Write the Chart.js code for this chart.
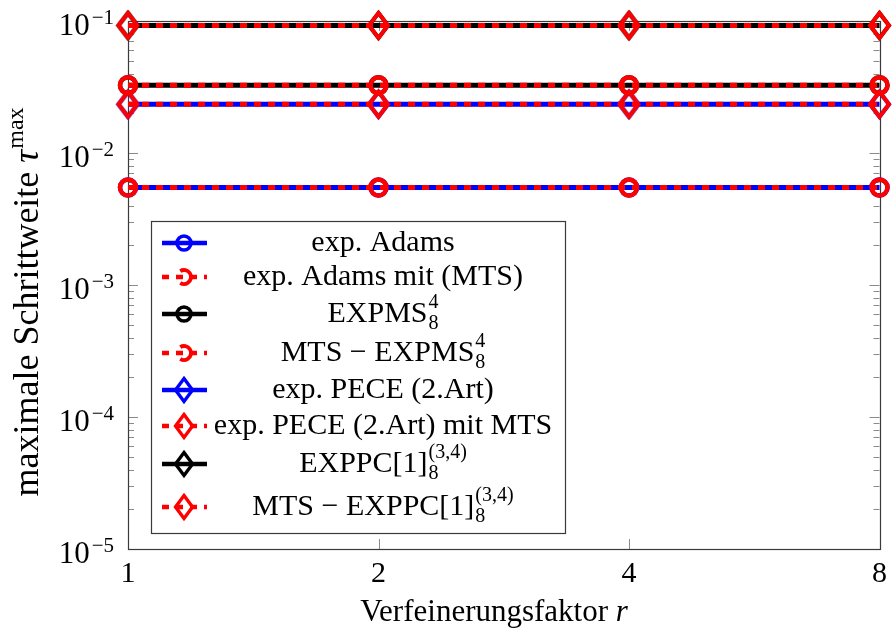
<!DOCTYPE html>
<html lang="de">
<head>
<meta charset="UTF-8">
<title>Maximale Schrittweite über dem Verfeinerungsfaktor</title>
<script src="https://cdn.jsdelivr.net/npm/chart.js"></script>
<style>
  html, body { margin: 0; padding: 0; background: #fff; }
  canvas { display: block; }
</style>
</head>
<body>
<canvas id="myChart" width="892" height="632"></canvas>
<script>
// Verfeinerungsfaktoren r (äquidistant, log2)
const faktoren = ['1', '2', '4', '8'];

// maximale Schrittweiten je Verfahren
const expAdams    = [0.00547, 0.00547, 0.00547, 0.00547];
const expAdamsMts = [0.00547, 0.00547, 0.00547, 0.00547];
const expms       = [0.0326, 0.0326, 0.0326, 0.0326];
const mtsExpms    = [0.0326, 0.0326, 0.0326, 0.0326];
const pece        = [0.0234, 0.0234, 0.0234, 0.0234];
const peceMts     = [0.0234, 0.0234, 0.0234, 0.0234];
const exppc       = [0.0925, 0.0925, 0.0925, 0.0925];
const mtsExppc    = [0.0925, 0.0925, 0.0925, 0.0925];

// Achsenbeschriftung y: Zehnerpotenzen
const yTickWerte = [1e-5, 1e-4, 1e-3, 1e-2, 1e-1];
const yTickExp   = ['−5', '−4', '−3', '−2', '−1'];

// Legendentexte (Teile mit Index oben/unten)
const legendeTexte = [
  [{ t: 'exp. Adams' }],
  [{ t: 'exp. Adams mit (MTS)' }],
  [{ t: 'EXPMS', sub: '8', sup: '4' }],
  [{ t: 'MTS − EXPMS', sub: '8', sup: '4' }],
  [{ t: 'exp. PECE (2.Art)' }],
  [{ t: 'exp. PECE (2.Art) mit MTS' }],
  [{ t: 'EXPPC[1]', sub: '8', sup: '(3,4)' }],
  [{ t: 'MTS − EXPPC[1]', sub: '8', sup: '(3,4)' }]
];

const SERIF = '"Liberation Serif", "DejaVu Serif", serif';
const BLAU = '#0000ff', ROT = '#ff0000', SCHWARZ = '#000000';

// Raute als Punktsymbol (pgfplots "diamond")
function raute(farbe, hw, hh, lw) {
  const c = document.createElement('canvas');
  c.width = Math.ceil(2 * hw + lw * 2 + 2);
  c.height = Math.ceil(2 * hh + lw * 2 + 2);
  const g = c.getContext('2d');
  zeichneRaute(g, c.width / 2, c.height / 2, hw, hh, farbe, lw);
  return c;
}

function zeichneRaute(g, cx, cy, hw, hh, farbe, lw) {
  g.save();
  g.strokeStyle = farbe;
  g.lineWidth = lw;
  g.beginPath();
  g.moveTo(cx, cy - hh);
  g.lineTo(cx + hw, cy);
  g.lineTo(cx, cy + hh);
  g.lineTo(cx - hw, cy);
  g.closePath();
  g.stroke();
  g.restore();
}

function zeichneKreis(g, cx, cy, r, farbe, lw, von, bis) {
  g.save();
  g.strokeStyle = farbe;
  g.lineWidth = lw;
  g.beginPath();
  g.arc(cx, cy, r, von, bis);
  g.stroke();
  g.restore();
}

const rauten = {};
[BLAU, ROT, SCHWARZ].forEach(f => { rauten[f] = raute(f, 9.5, 12.5, 4); });

const serien = [
  { label: 'exp. Adams',                data: expAdams,    farbe: BLAU,    gestrichelt: false, marke: 'o' },
  { label: 'exp. Adams mit (MTS)',      data: expAdamsMts, farbe: ROT,     gestrichelt: true,  marke: 'o' },
  { label: 'EXPMS',                     data: expms,       farbe: SCHWARZ, gestrichelt: false, marke: 'o' },
  { label: 'MTS - EXPMS',               data: mtsExpms,    farbe: ROT,     gestrichelt: true,  marke: 'o' },
  { label: 'exp. PECE (2.Art)',         data: pece,        farbe: BLAU,    gestrichelt: false, marke: 'd' },
  { label: 'exp. PECE (2.Art) mit MTS', data: peceMts,     farbe: ROT,     gestrichelt: true,  marke: 'd' },
  { label: 'EXPPC[1]',                  data: exppc,       farbe: SCHWARZ, gestrichelt: false, marke: 'd' },
  { label: 'MTS - EXPPC[1]',            data: mtsExppc,    farbe: ROT,     gestrichelt: true,  marke: 'd' }
];

const datasets = serien.map(s => ({
  label: s.label,
  data: s.data,
  borderColor: s.farbe,
  borderWidth: 5,
  borderDash: s.gestrichelt ? [7, 7] : [],
  pointStyle: s.marke === 'o' ? 'circle' : rauten[s.farbe],
  pointRadius: 8,
  pointBorderWidth: 4.5,
  pointBorderColor: s.farbe,
  pointBackgroundColor: 'rgba(0,0,0,0)',
  fill: false,
  tension: 0,
  clip: false,
  order: s.gestrichelt ? 0 : 1
}));

// Text mit optionalem Index oben/unten
function teilBreite(ctx, teil, gross, klein) {
  ctx.font = (teil.italic ? 'italic ' : '') + gross + 'px ' + SERIF;
  let w = ctx.measureText(teil.t).width;
  ctx.font = klein + 'px ' + SERIF;
  const wi = Math.max(teil.sub ? ctx.measureText(teil.sub).width : 0,
                      teil.sup ? ctx.measureText(teil.sup).width : 0);
  return w + (wi ? wi + 1 : 0);
}

function zeichneText(ctx, teile, x, y, align, gross, klein) {
  const breite = teile.reduce((a, t) => a + teilBreite(ctx, t, gross, klein), 0);
  let cx = align === 'center' ? x - breite / 2 : align === 'right' ? x - breite : x;
  const hoch = Math.round(gross * 0.42);
  ctx.textBaseline = 'alphabetic';
  ctx.textAlign = 'left';
  ctx.fillStyle = '#000';
  teile.forEach(teil => {
    ctx.font = (teil.italic ? 'italic ' : '') + gross + 'px ' + SERIF;
    ctx.fillText(teil.t, cx, y);
    cx += ctx.measureText(teil.t).width;
    ctx.font = klein + 'px ' + SERIF;
    let wi = 0;
    if (teil.sup) {
      ctx.fillText(teil.sup, cx + 1, y - (teil.sub ? hoch + 1 : hoch));
      wi = ctx.measureText(teil.sup).width;
    }
    if (teil.sub) {
      ctx.fillText(teil.sub, cx + 1, y + 7);
      wi = Math.max(wi, ctx.measureText(teil.sub).width);
    }
    if (wi) cx += wi + 1;
  });
}

const pgfAchsen = {
  id: 'pgfAchsen',
  beforeDatasetsDraw(chart) {
    const ctx = chart.ctx;
    const { left, right, top, bottom } = chart.chartArea;
    const ys = chart.scales.y, xs = chart.scales.x;
    ctx.save();
    // Teilstriche nach innen
    ctx.strokeStyle = '#8a8a8a';
    ctx.lineWidth = 1;
    ctx.beginPath();
    for (let k = -5; k <= -1; k++) {
      for (let m = 1; m <= 9; m++) {
        const v = m * Math.pow(10, k);
        if (v > 0.1 + 1e-12) break;
        const py = Math.round(ys.getPixelForValue(v)) + 0.5;
        const len = m === 1 ? 10 : 6;
        ctx.moveTo(left, py); ctx.lineTo(left + len, py);
        ctx.moveTo(right, py); ctx.lineTo(right - len, py);
      }
    }
    for (let i = 1; i < faktoren.length - 1; i++) {
      const px = Math.round(xs.getPixelForValue(i)) + 0.5;
      ctx.moveTo(px, bottom); ctx.lineTo(px, bottom - 10);
      ctx.moveTo(px, top); ctx.lineTo(px, top + 10);
    }
    ctx.stroke();
    // Rahmen
    ctx.strokeStyle = '#3a3a3a';
    ctx.lineWidth = 1.2;
    ctx.strokeRect(Math.round(left) + 0.5, Math.round(top) + 0.5,
                   Math.round(right - left), Math.round(bottom - top));
    ctx.restore();
  },
  afterDraw(chart) {
    const ctx = chart.ctx;
    const ys = chart.scales.y;
    ctx.save();

    // y-Beschriftung 10^k
    yTickWerte.forEach((v, i) => {
      const py = ys.getPixelForValue(v);
      ctx.font = '21px ' + SERIF;
      const wExp = ctx.measureText(yTickExp[i]).width;
      ctx.fillStyle = '#000';
      ctx.textAlign = 'right';
      ctx.textBaseline = 'alphabetic';
      ctx.fillText(yTickExp[i], 114, py + 3);
      ctx.font = '31px ' + SERIF;
      ctx.fillText('10', 113 - wExp - 1, py + 14);
    });

    // Achsentitel
    zeichneText(ctx, [{ t: 'Verfeinerungsfaktor ' }, { t: 'r', italic: true }],
                494, 621, 'center', 31, 21);
    ctx.save();
    ctx.translate(38, 302);
    ctx.rotate(-Math.PI / 2);
    zeichneText(ctx, [{ t: 'maximale Schrittweite ' }, { t: 'τ', italic: true, sup: 'max' }],
                0, 0, 'center', 36, 24);
    ctx.restore();

    // Legende
    const box = { x: 151, y: 221, w: 414, h: 312 };
    ctx.fillStyle = '#fff';
    ctx.fillRect(box.x, box.y, box.w, box.h);
    ctx.strokeStyle = '#3a3a3a';
    ctx.lineWidth = 1.2;
    ctx.strokeRect(box.x + 0.5, box.y + 0.5, box.w, box.h);
    const zeilen = [243, 277, 314, 353, 390, 426, 464, 507];
    serien.forEach((s, i) => {
      const ly = zeilen[i];
      ctx.save();
      ctx.strokeStyle = s.farbe;
      ctx.lineWidth = 4.5;
      ctx.setLineDash(s.gestrichelt ? [7, 7] : []);
      ctx.beginPath();
      ctx.moveTo(162, ly); ctx.lineTo(207, ly);
      ctx.stroke();
      ctx.restore();
      if (s.marke === 'o') {
        if (s.gestrichelt) zeichneKreis(ctx, 184, ly, 7, s.farbe, 3.8, -0.68 * Math.PI, 0.68 * Math.PI);
        else zeichneKreis(ctx, 184, ly, 7, s.farbe, 3.5, 0, Math.PI * 2);
      } else {
        zeichneRaute(ctx, 184, ly, 8.5, 11.5, s.farbe, 3.4);
      }
      zeichneText(ctx, legendeTexte[i], 383, ly + 8, 'center', 30, 20);
    });
    ctx.restore();
  }
};

new Chart(document.getElementById('myChart'), {
  type: 'line',
  data: { labels: faktoren, datasets },
  plugins: [pgfAchsen],
  options: {
    responsive: false,
    animation: false,
    events: [],
    layout: { padding: { top: 21, right: 6, left: 0, bottom: 0 } },
    plugins: { legend: { display: false }, tooltip: { enabled: false } },
    scales: {
      x: {
        type: 'category',
        offset: false,
        grid: { display: false, drawTicks: false },
        border: { display: false },
        ticks: { color: '#000', font: { family: SERIF, size: 30 }, padding: 7, maxRotation: 0, autoSkip: false },
        afterFit(scale) {
          scale.height = 83;
          scale.paddingLeft = 0;
          scale.paddingRight = 0;
        }
      },
      y: {
        type: 'logarithmic',
        min: 1e-5,
        max: 0.1,
        grid: { display: false, drawTicks: false },
        border: { display: false },
        ticks: { display: false },
        afterFit(scale) { scale.width = 128; }
      }
    }
  }
});
</script>
</body>
</html>
